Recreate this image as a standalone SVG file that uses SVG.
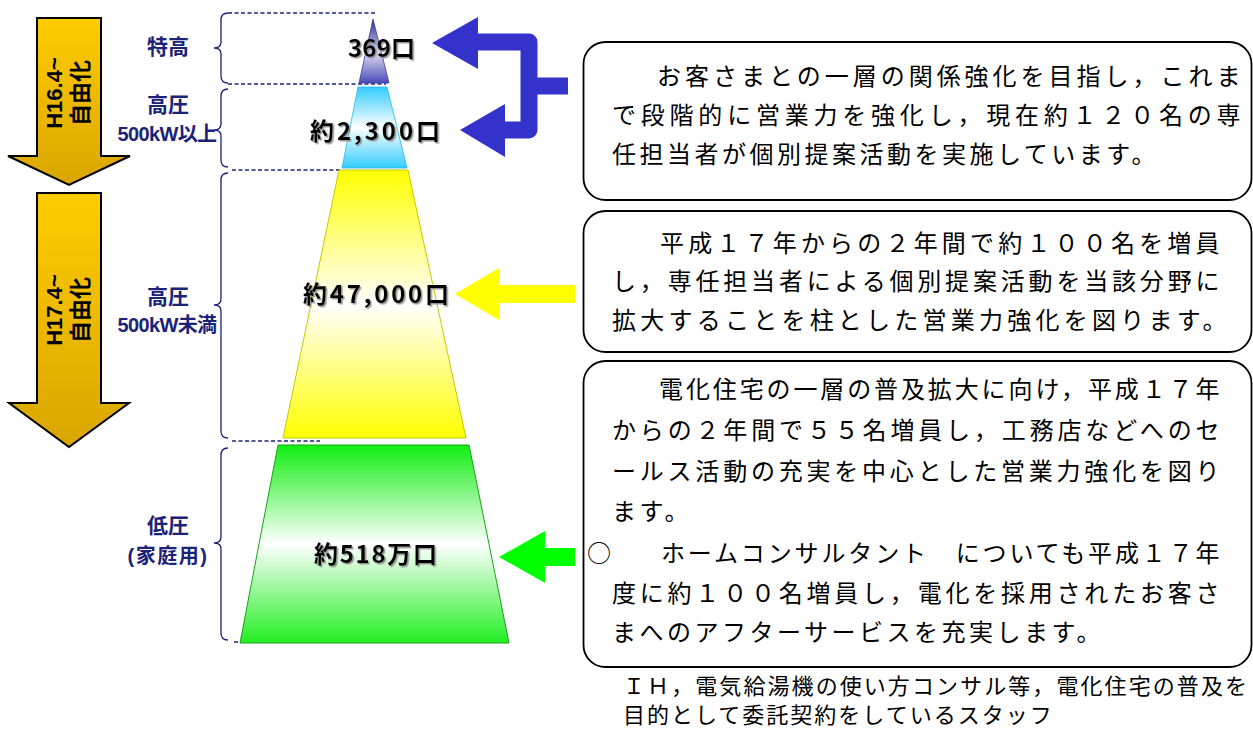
<svg xmlns="http://www.w3.org/2000/svg" width="1253" height="729" viewBox="0 0 1253 729">
<defs>
<linearGradient id="gold" x1="0" y1="0" x2="0" y2="1"><stop offset="0" stop-color="#ffcc00"/><stop offset="1" stop-color="#d9a600"/></linearGradient>
<linearGradient id="gTri" x1="0" y1="0" x2="0" y2="1"><stop offset="0" stop-color="#2e2e8e"/><stop offset="0.55" stop-color="#d8d8f0"/><stop offset="1" stop-color="#4a4ab8"/></linearGradient>
<linearGradient id="gCyan" x1="0" y1="0" x2="0" y2="1"><stop offset="0" stop-color="#33ccff"/><stop offset="0.5" stop-color="#ffffff"/><stop offset="1" stop-color="#33ccff"/></linearGradient>
<linearGradient id="gYel" x1="0" y1="0" x2="0" y2="1"><stop offset="0" stop-color="#ffff00"/><stop offset="0.5" stop-color="#ffffff"/><stop offset="1" stop-color="#ffff00"/></linearGradient>
<linearGradient id="gGrn" x1="0" y1="0" x2="0" y2="1"><stop offset="0" stop-color="#11ee11"/><stop offset="0.5" stop-color="#ffffff"/><stop offset="1" stop-color="#22ee22"/></linearGradient>
<filter id="shadow" x="-10%" y="-30%" width="130%" height="160%"><feDropShadow dx="1.5" dy="1.5" stdDeviation="0.6" flood-color="#808080" flood-opacity="0.8"/></filter>
</defs>
<style>
.lbl{font-family:"Liberation Sans","Noto Sans CJK JP",sans-serif;font-weight:bold;fill:#1b2378;font-size:21px;text-anchor:middle}
.lbs{font-family:"Liberation Sans","Noto Sans CJK JP",sans-serif;font-weight:bold;fill:#1b2378;font-size:20px;text-anchor:middle;letter-spacing:-0.5px}
.arw{font-family:"Liberation Sans","Noto Sans CJK JP",sans-serif;font-weight:bold;font-size:22px;fill:#000;text-anchor:middle}
.cnt{font-family:"Noto Sans CJK JP",sans-serif;font-weight:bold;font-size:24px;fill:#000;filter:url(#shadow)}
.body{font-family:"Noto Sans CJK JP",sans-serif;font-size:24px;fill:#000;letter-spacing:3.5px}
.note{font-family:"Noto Sans CJK JP",sans-serif;font-size:22px;fill:#000;letter-spacing:2px}
.brace{fill:none;stroke:#1b2378;stroke-width:1.3}
.dash{stroke:#1b2378;stroke-width:1.3;stroke-dasharray:4 2.5}
.box{fill:#fff;stroke:#000;stroke-width:1.8}
.bigarrow{fill:url(#gold);stroke:#000;stroke-width:2;stroke-linejoin:miter}
</style>

<g id="arrow-h16">
<polygon class="bigarrow" points="37,18 101,18 101,156 130,156 69,185 8,156 37,156"/>
<g transform="translate(69,93) rotate(-90)">
<text class="arw" x="0" y="-7">H16.4~</text>
<text class="arw" x="0" y="19">自由化</text>
</g>
</g>

<g id="arrow-h17">
<polygon class="bigarrow" points="37,193 101,193 101,403 129,403 69,447 9,403 37,403"/>
<g transform="translate(69,310) rotate(-90)">
<text class="arw" x="0" y="-7">H17.4~</text>
<text class="arw" x="0" y="19">自由化</text>
</g>
</g>

<g id="label-tokko">
<text class="lbl" x="168" y="54">特高</text>
<path class="brace" d="M228,13 Q221,13 221,20 L221,42 Q221,48 214,48 Q221,48 221,54 L221,76 Q221,83 228,83"/>
<line class="dash" x1="228" y1="13" x2="375" y2="13"/>
</g>

<g id="label-koatsu-ue">
<text class="lbl" x="168" y="112">高圧</text>
<text class="lbs" x="167" y="141" textLength="99">500kW以上</text>
<path class="brace" d="M228,89 Q221,89 221,96 L221,124 Q221,130 214,130 Q221,130 221,136 L221,160 Q221,167 228,167"/>
<line class="dash" x1="228" y1="84" x2="386" y2="84"/>
</g>

<g id="label-koatsu-shita">
<text class="lbl" x="168" y="304">高圧</text>
<text class="lbs" x="167" y="332" textLength="99">500kW未満</text>
<path class="brace" d="M228,173 Q221,173 221,180 L221,299 Q221,305 214,305 Q221,305 221,311 L221,431 Q221,438 228,438"/>
<line class="dash" x1="232" y1="170" x2="340" y2="170"/>
<line class="dash" x1="232" y1="441" x2="320" y2="441"/>
</g>

<g id="label-teiatsu">
<text class="lbl" x="168" y="533">低圧</text>
<text class="lbs" x="167" y="563" textLength="79">(家庭用)</text>
<path class="brace" d="M228,448 Q221,448 221,455 L221,537 Q221,543 214,543 Q221,543 221,549 L221,633 Q221,640 228,640"/>
<line class="dash" x1="234" y1="642" x2="242" y2="642"/>
</g>

<g id="tier-tokko">
<polygon points="373,19 389,83 359,83" fill="url(#gTri)" stroke="#3a3aa0" stroke-width="0.8"/>
<text class="cnt" x="348" y="57" textLength="67">369口</text>
</g>
<g id="tier-koatsu-ue">
<polygon points="358,87 387,87 407,168 342,168" fill="url(#gCyan)" stroke="#22b8e8" stroke-width="0.8"/>
<text class="cnt" x="310" y="140" textLength="130">約2,300口</text>
</g>
<g id="tier-koatsu-shita">
<polygon points="339,170 408,170 466,438 283,438" fill="url(#gYel)" stroke="#c8c800" stroke-width="1"/>
<text class="cnt" x="303" y="303" textLength="146">約47,000口</text>
</g>
<g id="tier-teiatsu">
<polygon points="278,445 469,445 509,643 240,643" fill="url(#gGrn)" stroke="#1aa01a" stroke-width="1"/>
<text class="cnt" x="314" y="563" textLength="123">約518万口</text>
</g>

<g id="connectors">
<path d="M476,42 H529 V130 H504" fill="none" stroke="#3333cc" stroke-width="17" stroke-linejoin="round"/>
<path d="M568,86 H529" fill="none" stroke="#3333cc" stroke-width="17"/>
<polygon points="432,43 478,17 478,69" fill="#3333cc"/>
<polygon points="460,130 505,104 505,157" fill="#3333cc"/>
<polygon points="455,294 499,268 499,285 575,285 575,303 499,303 499,320" fill="#ffff00"/>
<polygon points="499,557 545,531 545,548 575,548 575,566 545,566 545,583" fill="#00ff00"/>
</g>

<g id="box1">
<rect class="box" x="583.5" y="42" width="668" height="158" rx="22"/>
<text class="body" x="657" y="85" textLength="587">お客さまとの一層の関係強化を目指し，これま</text>
<text class="body" x="612" y="124" textLength="632">で段階的に営業力を強化し，現在約１２０名の専</text>
<text class="body" x="612" y="163">任担当者が個別提案活動を実施しています。</text>
</g>

<g id="box2">
<rect class="box" x="583.5" y="211" width="668" height="141" rx="22"/>
<text class="body" x="660" y="252" textLength="563">平成１７年からの２年間で約１００名を増員</text>
<text class="body" x="612" y="290" textLength="611">し，専任担当者による個別提案活動を当該分野に</text>
<text class="body" x="612" y="329" textLength="618">拡大することを柱とした営業力強化を図ります。</text>
</g>

<g id="box3">
<rect class="box" x="583.5" y="361" width="668" height="306" rx="22"/>
<text class="body" x="659" y="398" textLength="564">電化住宅の一層の普及拡大に向け，平成１７年</text>
<text class="body" x="612" y="439" textLength="611">からの２年間で５５名増員し，工務店などへのセ</text>
<text class="body" x="612" y="480" textLength="611">ールス活動の充実を中心とした営業力強化を図り</text>
<text class="body" x="612" y="520">ます。</text>
<text class="body" x="587" y="562">○</text>
<text class="body" x="661" y="562" textLength="562">ホームコンサルタント　についても平成１７年</text>
<text class="body" x="612" y="602" textLength="611">度に約１００名増員し，電化を採用されたお客さ</text>
<text class="body" x="612" y="641">まへのアフターサービスを充実します。</text>
</g>

<g id="note">
<text class="note" x="623" y="694" textLength="626">ＩＨ，電気給湯機の使い方コンサル等，電化住宅の普及を</text>
<text class="note" x="623" y="723">目的として委託契約をしているスタッフ</text>
</g>
</svg>
